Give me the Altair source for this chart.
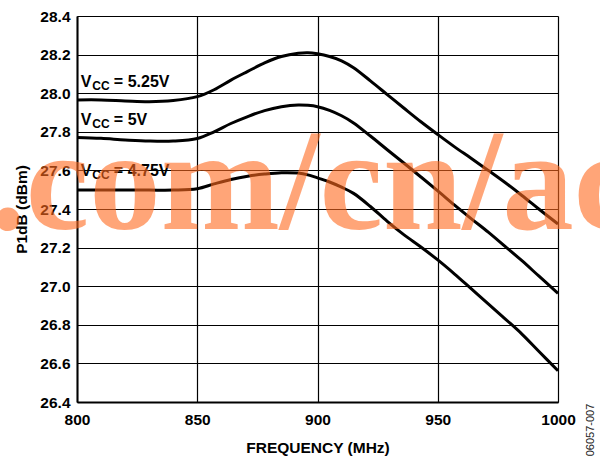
import altair as alt
import pandas as pd

# Frequencies (MHz) at which the curves were read
freq = [800, 810, 820, 830, 840, 850, 857, 864, 871, 878, 885, 892, 896, 900,
        905, 910, 915, 922, 929, 936, 943, 950, 957, 964, 971, 978, 985, 992, 1000]

vcc_525 = [27.965, 27.965, 27.960, 27.956, 27.962, 27.982, 28.018, 28.068, 28.113,
           28.157, 28.190, 28.207, 28.210, 28.204, 28.190, 28.168, 28.132, 28.064,
           27.993, 27.922, 27.852, 27.786, 27.722, 27.662, 27.600, 27.537, 27.470,
           27.400, 27.322]
vcc_500 = [27.771, 27.766, 27.758, 27.752, 27.752, 27.765, 27.800, 27.843, 27.879,
           27.910, 27.930, 27.939, 27.937, 27.930, 27.911, 27.883, 27.846, 27.778,
           27.707, 27.637, 27.566, 27.494, 27.420, 27.349, 27.280, 27.206, 27.132,
           27.053, 26.963]
vcc_475 = [27.498, 27.498, 27.498, 27.498, 27.498, 27.505, 27.530, 27.553, 27.570,
           27.581, 27.588, 27.586, 27.577, 27.561, 27.540, 27.513, 27.481, 27.413,
           27.336, 27.266, 27.203, 27.136, 27.063, 26.986, 26.909, 26.831, 26.752,
           26.663, 26.562]

series_names = ["5.25V", "5V", "4.75V"]
label_rest = ["= 5.25V", "= 5V", "= 4.75V"]
label_x = [801.6, 801.6, 801.6]
label_y = [28.034, 27.837, 27.571]

x_ticks = [800, 850, 900, 950, 1000]
y_ticks = [26.4, 26.6, 26.8, 27.0, 27.2, 27.4, 27.6, 27.8, 28.0, 28.2, 28.4]

rows = []
for name, vals in zip(series_names, [vcc_525, vcc_500, vcc_475]):
    for f, v in zip(freq, vals):
        rows.append({"series": name, "freq": f, "p1db": v})
df = pd.DataFrame(rows)

labels = pd.DataFrame({"series": series_names, "x": label_x, "y": label_y,
                       "rest": label_rest})

FONT = "Liberation Sans"

xscale = alt.Scale(domain=[800, 1000], nice=False, zero=False)
yscale = alt.Scale(domain=[26.4, 28.4], nice=False, zero=False)

xaxis = alt.Axis(values=x_ticks, tickCount=len(x_ticks) + 5, format="d",
                 title="FREQUENCY (MHz)",
                 grid=True, gridColor="black", gridWidth=1.2, gridOpacity=1,
                 domainColor="black", domainWidth=2, ticks=False, tickSize=0,
                 labelFont=FONT, labelFontWeight="bold", labelFontSize=15.5,
                 labelColor="black", labelPadding=10, labelOverlap=False,
                 labelFlush=False, labelAlign="center",
                 titleFont=FONT, titleFontWeight="bold", titleFontSize=15.5,
                 titleColor="black", titleY=50.5, titleBaseline="alphabetic")
yaxis = alt.Axis(values=y_ticks, tickCount=len(y_ticks) + 5, format=".1f",
                 title="P1dB (dBm)",
                 grid=True, gridColor="black", gridWidth=1.2, gridOpacity=1,
                 domainColor="black", domainWidth=2, ticks=False, tickSize=0,
                 labelFont=FONT, labelFontWeight="bold", labelFontSize=15.5,
                 labelColor="black", labelPadding=7, labelOverlap=False,
                 labelFlush=False, labelBaseline="middle",
                 titleFont=FONT, titleFontWeight="bold", titleFontSize=15.5,
                 titleColor="black", titleX=-51, titleY=193, titleAngle=270,
                 titleAlign="center", titleBaseline="alphabetic")

lines = alt.Chart(df).mark_line(color="black", strokeWidth=3,
                                interpolate="catmull-rom").encode(
    x=alt.X("freq:Q", scale=xscale, axis=xaxis),
    y=alt.Y("p1db:Q", scale=yscale, axis=yaxis),
    detail="series:N",
)

base_lbl = alt.Chart(labels)
lbl_v = base_lbl.mark_text(text="V", font=FONT, fontWeight="bold", fontSize=16,
                           align="left", baseline="alphabetic", color="black").encode(
    x=alt.X("x:Q", scale=xscale), y=alt.Y("y:Q", scale=yscale))
lbl_cc = base_lbl.mark_text(text="CC", font=FONT, fontWeight="bold", fontSize=12,
                            align="left", baseline="alphabetic", color="black",
                            dx=11.5, dy=3.3).encode(
    x=alt.X("x:Q", scale=xscale), y=alt.Y("y:Q", scale=yscale))
lbl_rest = base_lbl.mark_text(font=FONT, fontWeight="bold", fontSize=16,
                              align="left", baseline="alphabetic", color="black",
                              dx=33).encode(
    x=alt.X("x:Q", scale=xscale), y=alt.Y("y:Q", scale=yscale), text="rest:N")

side = alt.Chart(pd.DataFrame({"t": ["06057-007"]})).mark_text(
    font=FONT, fontSize=11, angle=270, align="center", baseline="middle",
    color="#222222").encode(x=alt.value(514), y=alt.value(414), text="t:N")

watermark = alt.Chart(pd.DataFrame({"t": [".com/cn/ac"]})).mark_text(
    font="Liberation Serif", fontWeight="bold", fontSize=143, align="left",
    baseline="alphabetic", color="#FF6A1F", opacity=0.6).encode(
    x=alt.value(-87), y=alt.value(213), text="t:N")

chart = alt.layer(lines, lbl_v, lbl_cc, lbl_rest, side, watermark).properties(
    width=481, height=386,
    autosize=alt.AutoSizeParams(type="none"),
    padding={"left": 77, "top": 16, "right": 42, "bottom": 58},
).configure_view(stroke="black", strokeWidth=2).configure(background="white")

chart.save("out.html", embed_options={"renderer": "svg", "actions": False})
